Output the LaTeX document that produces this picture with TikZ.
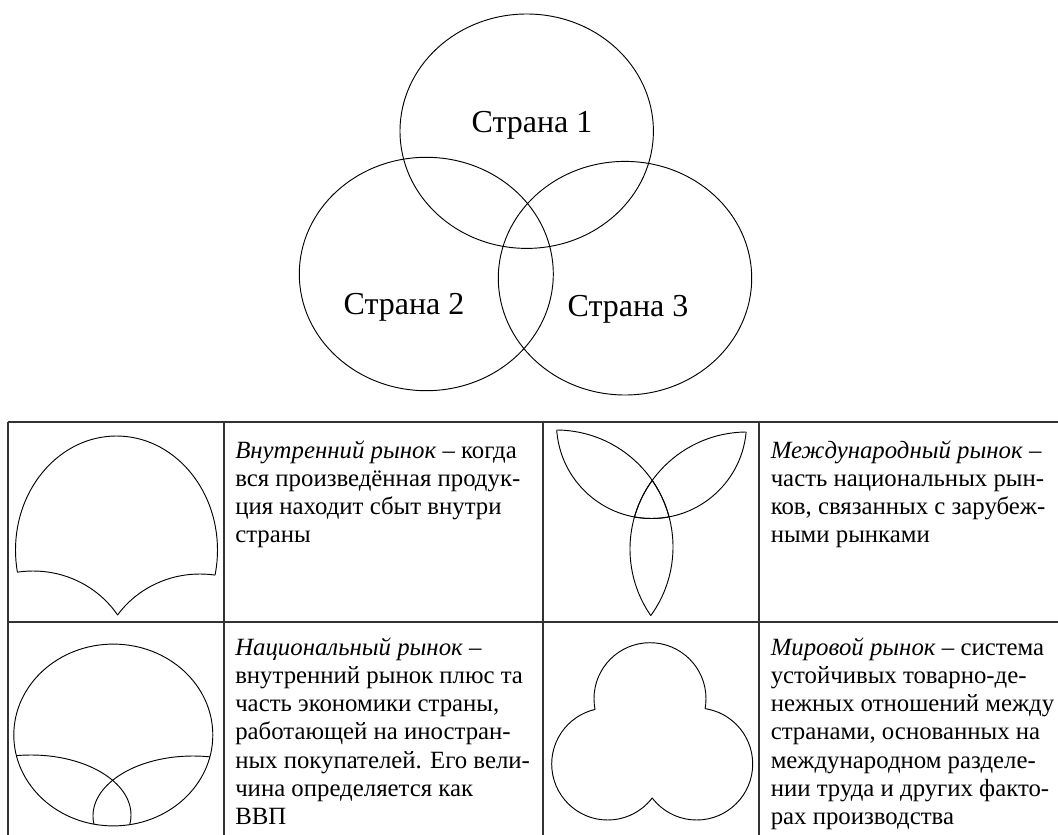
\documentclass[tikz,border=0pt]{standalone}
\usepackage{fontspec}
\setmainfont{Liberation Serif}
\begin{document}
\begin{tikzpicture}[x=0.75pt,y=-0.75pt,
  shp/.style={line width=0.7pt, black},
  gridline/.style={line width=1pt, black!80},
  lbl/.style={font=\fontsize{24pt}{28pt}\selectfont, anchor=base, inner sep=0pt},
  txt/.style={font=\fontsize{18.6pt}{21.2pt}\selectfont, anchor=base west, inner sep=0pt}]
\useasboundingbox (0,0) rectangle (1058,835);
\def\Big{(-20,-20) rectangle (1080,860)}
% ---------- Venn diagram ----------
\draw[shp] (526.7,131.2) ellipse [x radius=126.7, y radius=117.2];
\draw[shp] (426.3,274) ellipse [x radius=127, y radius=116.7];
\draw[shp] (625,278.2) ellipse [x radius=126.7, y radius=116.8];
\node[lbl] (s1) at (532,132.7) {Страна 1};
\node[lbl] (s2) at (404,314) {Страна 2};
\node[lbl] (s3) at (628,316) {Страна 3};
% ---------- table grid ----------
\draw[gridline] (8,422) -- (1058,422);
\draw[gridline] (8,622) -- (1058,622);
\draw[gridline] (8,422) -- (8,835);
\draw[gridline] (224,422) -- (224,835);
\draw[gridline] (543,422) -- (543,835);
\draw[gridline] (759,422) -- (759,835);
% ---------- shape 1: internal market ----------
\def\Aa{(116.5,550) ellipse [x radius=101, y radius=114]}
\def\Ab{(33,668) ellipse [x radius=101, y radius=97]}
\def\Ac{(200,671) ellipse [x radius=101, y radius=97]}
\begin{scope}[even odd rule]
  \clip \Big \Ab;
  \clip \Big \Ac;
  \draw[shp] \Aa;
\end{scope}
\begin{scope}[even odd rule]
  \clip \Aa;
  \clip \Big \Ac;
  \draw[shp] \Ab;
\end{scope}
\begin{scope}[even odd rule]
  \clip \Aa;
  \clip \Big \Ab;
  \draw[shp] \Ac;
\end{scope}
% ---------- shape 2: international market ----------
\def\Ba{(651.5,423.5) circle [radius=95]}
\def\Bb{(556,547) circle [radius=117]}
\def\Bc{(747,549) circle [radius=117]}
\begin{scope}
  \clip \Ba;
  \draw[shp] \Bb;
  \draw[shp] \Bc;
\end{scope}
\begin{scope}
  \clip \Bb;
  \draw[shp] \Ba;
  \draw[shp] \Bc;
\end{scope}
\begin{scope}
  \clip \Bc;
  \draw[shp] \Ba;
  \draw[shp] \Bb;
\end{scope}
% ---------- shape 3: national market ----------
\def\Ca{(113.3,735) ellipse [x radius=99.5, y radius=90.9]}
\def\Cb{(31,815) ellipse [x radius=100, y radius=60]}
\def\Cc{(193,816) ellipse [x radius=100, y radius=60]}
\draw[shp] \Ca;
\begin{scope}
  \clip \Ca;
  \draw[shp] \Cb;
  \draw[shp] \Cc;
\end{scope}
% ---------- shape 4: world market ----------
\def\Da{(650,698.7) circle [radius=56]}
\def\Db{(607.7,764) circle [radius=56]}
\def\Dc{(696.7,764) circle [radius=56]}
\begin{scope}[even odd rule]
  \clip \Big \Db;
  \clip \Big \Dc;
  \draw[shp] \Da;
\end{scope}
\begin{scope}[even odd rule]
  \clip \Big \Da;
  \clip \Big \Dc;
  \draw[shp] \Db;
\end{scope}
\begin{scope}[even odd rule]
  \clip \Big \Da;
  \clip \Big \Db;
  \draw[shp] \Dc;
\end{scope}
% ---------- texts ----------
\node[txt] (tA) at (235,458) {\begin{tabular}[t]{@{}l@{}}
\textit{Внутренний рынок} – когда\\
вся произведённая продук-\\
ция находит сбыт внутри\\
страны\end{tabular}};
\node[txt] (tB) at (770.5,458) {\begin{tabular}[t]{@{}l@{}}
\textit{Международный рынок} –\\
часть национальных рын-\\
ков, связанных с зарубеж-\\
ными рынками\end{tabular}};
\node[txt] (tC) at (235,655) {\begin{tabular}[t]{@{}l@{}}
\textit{Национальный рынок} –\\
внутренний рынок плюс та\\
часть экономики страны,\\
работающей на иностран-\\
ных покупателей. Его вели-\\
чина определяется как\\
ВВП\end{tabular}};
\node[txt] (tD) at (770.5,655) {\begin{tabular}[t]{@{}l@{}}
\textit{Мировой рынок} – система\\
устойчивых товарно-де-\\
нежных отношений между\\
странами, основанных на\\
международном разделе-\\
нии труда и других факто-\\
рах производства\end{tabular}};
\end{tikzpicture}
\end{document}
